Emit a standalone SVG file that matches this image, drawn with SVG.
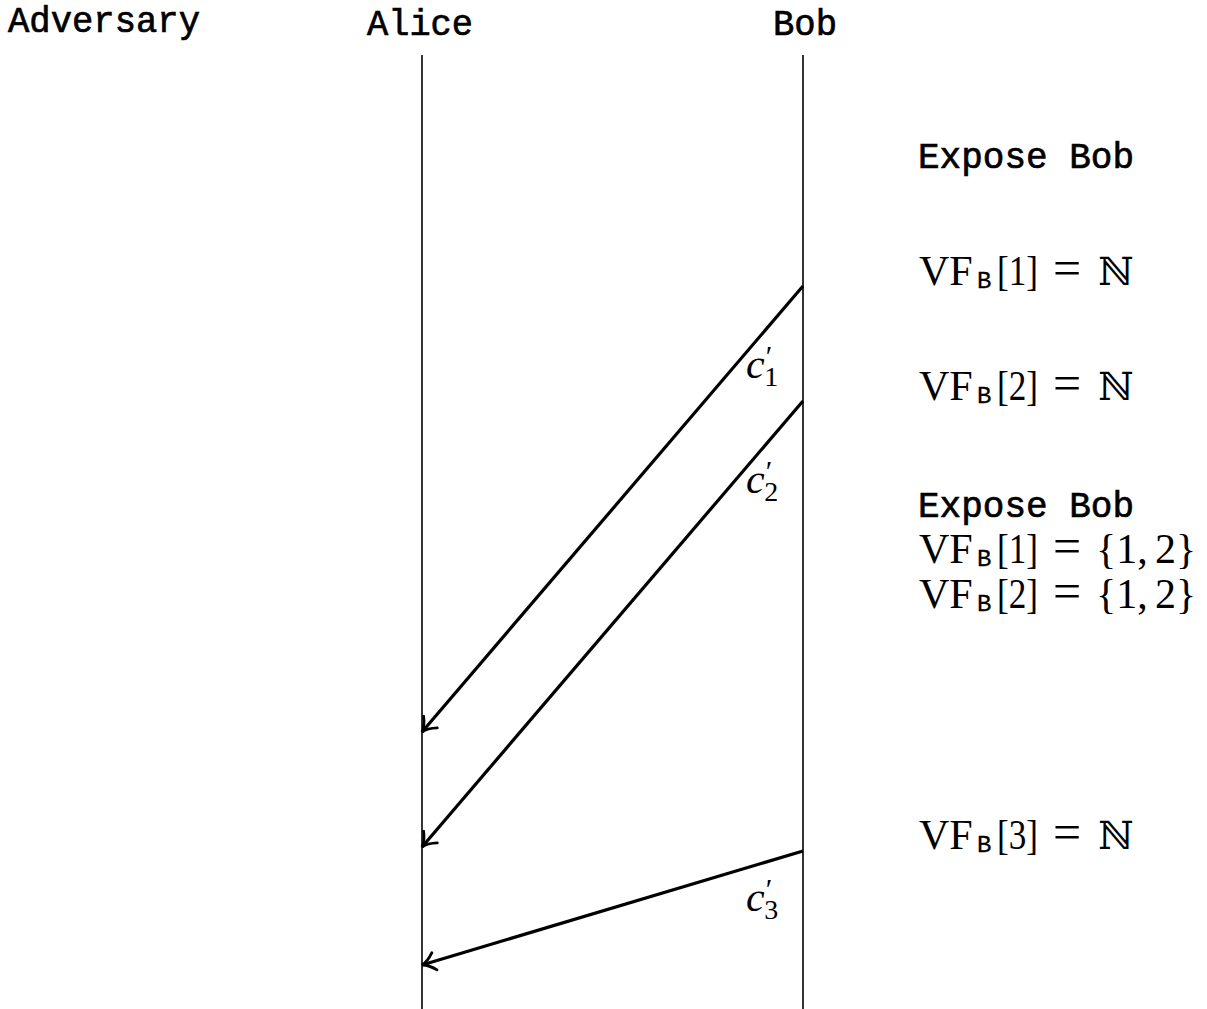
<svg xmlns="http://www.w3.org/2000/svg" width="1207" height="1009" viewBox="0 0 1207 1009">
<defs>
<style>
.tt{font-family:"Liberation Mono","DejaVu Sans Mono",monospace;font-size:37px;fill:#000;stroke:#000;stroke-width:0.7}
.m{font-family:"Liberation Serif","DejaVu Serif",serif;font-size:42px;fill:#000}
.eq{font-family:"Liberation Serif","DejaVu Serif",serif;font-size:50px;fill:#000}
.nn{font-family:"DejaVu Serif","Liberation Serif",serif;font-size:39px;fill:#000}
.sub{font-family:"Liberation Mono","DejaVu Sans Mono",monospace;font-size:24px;fill:#000;stroke:#000;stroke-width:0.3}
.it{font-family:"Liberation Serif","DejaVu Serif",serif;font-style:italic;font-size:42px;fill:#000}
.pr{font-size:30px;font-style:normal}
.sd{font-size:28px;font-style:normal}
.life{stroke:#000;stroke-width:1.6;fill:none}
.msg{stroke:#000;stroke-width:3.2;fill:none;marker-end:url(#to)}
</style>
<marker id="to" markerUnits="userSpaceOnUse" viewBox="-16 -12 18 24" markerWidth="18" markerHeight="24" refX="0" refY="0" orient="auto" overflow="visible">
<path d="M -13 -9 C -8 -3.5 -3.5 -0.9 0 0 C -3.5 0.9 -8 3.5 -13 9" fill="none" stroke="#000" stroke-width="2.8" stroke-linecap="round"/>
</marker>
</defs>
<rect width="1207" height="1009" fill="#fff"/>
<g id="adversary"><text class="tt" x="8" y="32" textLength="192" lengthAdjust="spacingAndGlyphs">Adversary</text></g>
<g id="alice">
<text class="tt" x="367" y="35" textLength="106" lengthAdjust="spacingAndGlyphs">Alice</text>
<line class="life" x1="422" y1="55" x2="422" y2="1009"/>
</g>
<g id="bob">
<text class="tt" x="773" y="35" textLength="64" lengthAdjust="spacingAndGlyphs">Bob</text>
<line class="life" x1="803" y1="55" x2="803" y2="1009"/>
</g>
<g id="annotations">
<text class="tt" x="918" y="168" textLength="216" lengthAdjust="spacingAndGlyphs">Expose Bob</text>
<g id="vf1-n"><text class="m" x="919" y="285">VF</text><text class="sub" x="977" y="288">B</text><text class="m" x="997" y="285" textLength="41" lengthAdjust="spacingAndGlyphs">[1]</text><text class="eq" x="1053" y="285">=</text><text class="nn" x="1098" y="285">ℕ</text></g>
<g id="vf2-n"><text class="m" x="919" y="400">VF</text><text class="sub" x="977" y="403">B</text><text class="m" x="997" y="400" textLength="41" lengthAdjust="spacingAndGlyphs">[2]</text><text class="eq" x="1053" y="400">=</text><text class="nn" x="1098" y="400">ℕ</text></g>
<text class="tt" x="918" y="517" textLength="216" lengthAdjust="spacingAndGlyphs">Expose Bob</text>
<g id="vf1-set"><text class="m" x="919" y="563">VF</text><text class="sub" x="977" y="566">B</text><text class="m" x="997" y="563" textLength="41" lengthAdjust="spacingAndGlyphs">[1]</text><text class="eq" x="1053" y="563">=</text><text class="m" x="1096" y="563">{1,</text><text class="m" x="1155" y="563">2}</text></g>
<g id="vf2-set"><text class="m" x="919" y="608">VF</text><text class="sub" x="977" y="611">B</text><text class="m" x="997" y="608" textLength="41" lengthAdjust="spacingAndGlyphs">[2]</text><text class="eq" x="1053" y="608">=</text><text class="m" x="1096" y="608">{1,</text><text class="m" x="1155" y="608">2}</text></g>
<g id="vf3-n"><text class="m" x="919" y="849">VF</text><text class="sub" x="977" y="852">B</text><text class="m" x="997" y="849" textLength="41" lengthAdjust="spacingAndGlyphs">[3]</text><text class="eq" x="1053" y="849">=</text><text class="nn" x="1098" y="849">ℕ</text></g>
</g>
<g id="connectors">
<line class="msg" x1="803" y1="286" x2="422" y2="732"/>
<line class="msg" x1="803" y1="401" x2="422" y2="847"/>
<line class="msg" x1="803" y1="851" x2="422" y2="965"/>
</g>
<g id="labels">
<text class="it" x="746" y="378">c<tspan class="pr" dx="1" dy="-12">′</tspan><tspan class="sd" dx="-8" dy="20">1</tspan></text>
<text class="it" x="746" y="493">c<tspan class="pr" dx="1" dy="-12">′</tspan><tspan class="sd" dx="-8" dy="20">2</tspan></text>
<text class="it" x="746" y="911">c<tspan class="pr" dx="1" dy="-12">′</tspan><tspan class="sd" dx="-8" dy="20">3</tspan></text>
</g>
</svg>
